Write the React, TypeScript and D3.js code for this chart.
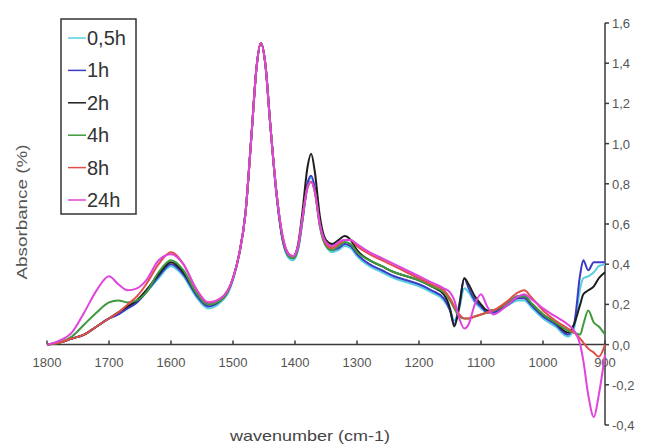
import * as d3 from "d3";

// wavenumber grid (cm-1)
const wavenumbers = [
  1800, 1780, 1760, 1740, 1720, 1700, 1685, 1670, 1655, 1640,
  1620, 1600, 1580, 1560, 1540, 1520, 1500, 1490, 1480, 1470,
  1462, 1455, 1448, 1440, 1430, 1420, 1410, 1403, 1395, 1388,
  1380, 1374, 1368, 1360, 1350, 1340, 1330, 1320, 1310, 1300,
  1280, 1260, 1240, 1220, 1200, 1180, 1160, 1150, 1143, 1135,
  1127, 1120, 1110, 1100, 1090, 1080, 1060, 1040, 1030, 1020,
  1000, 980, 960, 950, 940, 935, 927, 918, 910, 900,
];

const h05 = [
  0.0, 0.01, 0.03, 0.05, 0.09, 0.13, 0.15, 0.18, 0.21, 0.26,
  0.33, 0.39, 0.34, 0.24, 0.18, 0.21, 0.32, 0.45, 0.65, 1.05,
  1.38, 1.5, 1.4, 1.1, 0.75, 0.52, 0.43, 0.42, 0.47, 0.61,
  0.79, 0.83, 0.77, 0.59, 0.49, 0.46, 0.47, 0.49, 0.48, 0.44,
  0.39, 0.36, 0.33, 0.31, 0.29, 0.26, 0.22, 0.17, 0.12, 0.18,
  0.28, 0.26, 0.21, 0.18, 0.16, 0.16, 0.19, 0.22, 0.22, 0.19,
  0.13, 0.09, 0.04, 0.08, 0.28, 0.33, 0.34, 0.36, 0.39, 0.4,
];

const h1 = [
  0.0, 0.01, 0.03, 0.05, 0.09, 0.13, 0.15, 0.18, 0.21, 0.26,
  0.34, 0.4, 0.35, 0.25, 0.19, 0.22, 0.33, 0.45, 0.65, 1.05,
  1.38, 1.5, 1.4, 1.1, 0.75, 0.52, 0.44, 0.43, 0.48, 0.62,
  0.8, 0.84, 0.78, 0.6, 0.5, 0.47, 0.48, 0.5, 0.49, 0.45,
  0.4, 0.37, 0.34, 0.32, 0.3, 0.27, 0.23, 0.17, 0.1, 0.2,
  0.33, 0.28, 0.22, 0.19, 0.16, 0.16, 0.19, 0.23, 0.23, 0.2,
  0.14, 0.1, 0.05, 0.1, 0.35, 0.42, 0.37, 0.41, 0.41, 0.41,
];

const h2 = [
  0.0, 0.01, 0.03, 0.05, 0.09, 0.13, 0.16, 0.19, 0.22, 0.27,
  0.35, 0.41, 0.36, 0.26, 0.2, 0.22, 0.33, 0.45, 0.65, 1.05,
  1.38, 1.5, 1.4, 1.1, 0.76, 0.53, 0.45, 0.44, 0.5, 0.66,
  0.88, 0.95, 0.86, 0.64, 0.52, 0.5, 0.52, 0.54, 0.52, 0.47,
  0.42, 0.39, 0.36, 0.34, 0.32, 0.29, 0.25, 0.18, 0.09, 0.19,
  0.33, 0.3, 0.24, 0.2, 0.17, 0.17, 0.2, 0.24, 0.24, 0.21,
  0.15, 0.11, 0.06, 0.1, 0.2, 0.25, 0.27, 0.29, 0.33, 0.36,
];

const h4 = [
  0.0, 0.01, 0.04, 0.1, 0.16, 0.21, 0.22, 0.21, 0.22, 0.26,
  0.36, 0.42, 0.37, 0.26, 0.2, 0.22, 0.33, 0.45, 0.65, 1.05,
  1.38, 1.5, 1.4, 1.1, 0.76, 0.53, 0.44, 0.43, 0.48, 0.62,
  0.78, 0.81, 0.76, 0.59, 0.49, 0.47, 0.49, 0.51, 0.5, 0.46,
  0.42, 0.39, 0.36, 0.34, 0.32, 0.29, 0.26, 0.22, 0.18, 0.14,
  0.13, 0.13, 0.14, 0.15, 0.16, 0.17, 0.2, 0.24, 0.24, 0.21,
  0.15, 0.11, 0.07, 0.06, 0.05, 0.1, 0.17, 0.11, 0.09, 0.05,
];

const h8 = [
  0.0, 0.01, 0.03, 0.05, 0.09, 0.13, 0.16, 0.2, 0.24, 0.3,
  0.4, 0.46, 0.4, 0.28, 0.21, 0.23, 0.33, 0.45, 0.65, 1.05,
  1.38, 1.5, 1.4, 1.1, 0.76, 0.54, 0.45, 0.44, 0.49, 0.63,
  0.78, 0.81, 0.76, 0.6, 0.5, 0.48, 0.5, 0.52, 0.52, 0.49,
  0.45, 0.42, 0.39, 0.36, 0.33, 0.3, 0.27, 0.23, 0.19, 0.15,
  0.13, 0.13, 0.14, 0.15, 0.16, 0.17, 0.21, 0.26, 0.27, 0.24,
  0.17, 0.12, 0.08, 0.06, 0.03, 0.01, -0.02, -0.04, -0.06, 0.0,
];

const h24 = [
  0.0, 0.02, 0.06, 0.16, 0.27, 0.34, 0.3, 0.27, 0.28, 0.32,
  0.42, 0.45, 0.4, 0.28, 0.21, 0.23, 0.33, 0.45, 0.65, 1.05,
  1.38, 1.5, 1.4, 1.1, 0.76, 0.54, 0.45, 0.44, 0.49, 0.63,
  0.78, 0.81, 0.76, 0.6, 0.51, 0.49, 0.51, 0.52, 0.52, 0.5,
  0.46, 0.43, 0.4, 0.37, 0.34, 0.31, 0.28, 0.26, 0.22, 0.13,
  0.08, 0.1, 0.2, 0.25, 0.19, 0.15, 0.19, 0.24, 0.25, 0.23,
  0.18, 0.14, 0.1, 0.07, 0.0, -0.08, -0.25, -0.36, -0.25, -0.05,
];

const seriesNames = ["0,5h", "1h", "2h", "4h", "8h", "24h"];
const seriesValues = [h05, h1, h2, h4, h8, h24];
const seriesColors = ["#58cfe0", "#3b3bc8", "#1e1e1e", "#3d9a3d", "#e05048", "#e044dc"];

const xTicks = [1800, 1700, 1600, 1500, 1400, 1300, 1200, 1100, 1000, 900];
const yTicks = [-0.4, -0.2, 0, 0.2, 0.4, 0.6, 0.8, 1.0, 1.2, 1.4, 1.6];

const W = 654;
const H = 448;

export default function App() {
  const x = d3.scaleLinear().domain([1800, 900]).range([47, 605]);
  const y = d3.scaleLinear().domain([-0.4, 1.6]).range([425, 23]);

  const line = d3
    .line<number>()
    .x((_, i) => x(wavenumbers[i]))
    .y((d) => y(d))
    .curve(d3.curveMonotoneX);

  const fmt = (v: number) => v.toFixed(1).replace(".", ",");
  const axisColor = "#3a3a3a";
  const font = "'Liberation Sans Narrow', 'Liberation Sans', Arial, sans-serif";

  return (
    <svg
      width={W}
      height={H}
      style={{ position: "absolute", left: 0, top: 0, background: "#fff" }}
      fontFamily="'Liberation Sans', Arial, sans-serif"
    >
      {/* x axis (at zero) */}
      <line x1={x(1800)} x2={x(900)} y1={y(0)} y2={y(0)} stroke={axisColor} strokeWidth={1.5} />
      {xTicks.map((t) => (
        <g key={t}>
          <line x1={x(t)} x2={x(t)} y1={y(0)} y2={y(0) - 4} stroke={axisColor} strokeWidth={1.5} />
          <text
            x={x(t)}
            y={y(0) + 22}
            textAnchor="middle"
            fontSize={13}
            fontFamily={font}
            fill="#555"
          >
            {t}
          </text>
        </g>
      ))}

      {/* right y axis */}
      <line x1={x(900)} x2={x(900)} y1={y(-0.4)} y2={y(1.6)} stroke={axisColor} strokeWidth={1.5} />
      {yTicks.map((t) => (
        <g key={t}>
          <line x1={x(900)} x2={x(900) + 4} y1={y(t)} y2={y(t)} stroke={axisColor} strokeWidth={1.5} />
          <text
            x={x(900) + 7}
            y={y(t) + 5}
            fontSize={13}
            fontFamily={font}
            fill="#555"
          >
            {fmt(t)}
          </text>
        </g>
      ))}

      {/* curves */}
      {seriesValues.map((vals, i) => (
        <path
          key={seriesNames[i]}
          d={line(vals) || ""}
          fill="none"
          stroke={seriesColors[i]}
          strokeWidth={2}
          strokeLinejoin="round"
        />
      ))}

      {/* axis titles */}
      <text
        transform="translate(27,212) rotate(-90)"
        textAnchor="middle"
        fontSize={15}
        textLength={135}
        lengthAdjust="spacingAndGlyphs"
        fill="#555"
      >
        Absorbance (%)
      </text>
      <text
        x={310}
        y={441}
        textAnchor="middle"
        fontSize={15}
        textLength={160}
        lengthAdjust="spacingAndGlyphs"
        fill="#444"
      >
        wavenumber (cm-1)
      </text>

      {/* legend */}
      <g>
        <rect x={61} y={19} width={75} height={195} fill="#fff" stroke="#333" strokeWidth={1.5} />
        {seriesNames.map((name, i) => {
          const cy = 38 + i * 32.4;
          return (
            <g key={name}>
              <line x1={68} x2={86} y1={cy} y2={cy} stroke={seriesColors[i]} strokeWidth={1.5} />
              <text x={87} y={cy + 7} fontSize={20} fill="#333">
                {name}
              </text>
            </g>
          );
        })}
      </g>
    </svg>
  );
}
